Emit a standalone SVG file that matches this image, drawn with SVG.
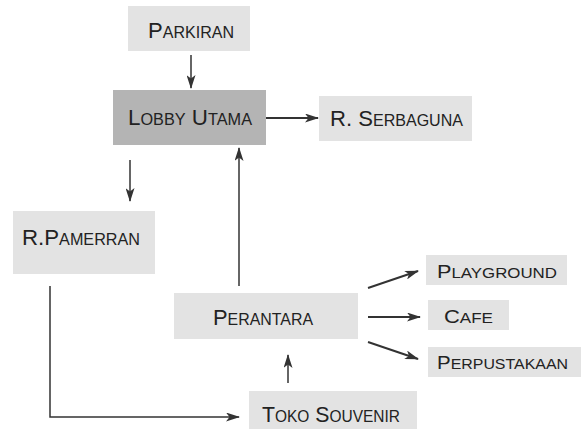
<svg xmlns="http://www.w3.org/2000/svg" width="583" height="431" viewBox="0 0 583 431">
<style>
.box{fill:#e3e3e3}
.dark{fill:#b4b4b4}
text{font-family:"Liberation Sans",Arial,sans-serif;fill:#222;font-size:22px}
text .s{font-size:16px}
text.m{font-size:18px}
text.m .s{font-size:14px}
.c{stroke:#333;stroke-width:1.5;fill:none;marker-end:url(#ah)}
.t{stroke-width:2}
</style>
<defs>
<marker id="ah" viewBox="0 0 14 9" refX="13" refY="4.5" markerWidth="14" markerHeight="9" markerUnits="userSpaceOnUse" orient="auto">
<path d="M0,0 L14,4.5 L0,9 L3.5,4.5 Z" fill="#333"/>
</marker>
</defs>
<rect width="583" height="431" fill="#fff"/>
<g id="connectors">
<line class="c" x1="191" y1="55" x2="191" y2="88"/>
<line class="c t" x1="266" y1="118" x2="318" y2="118"/>
<line class="c" x1="130" y1="160" x2="130" y2="201"/>
<line class="c" x1="239" y1="286" x2="239" y2="148"/>
<line class="c" x1="288" y1="383" x2="288" y2="355"/>
<polyline class="c" points="50,286 50,417 239,417"/>
<line class="c t" x1="368" y1="288" x2="418" y2="271"/>
<line class="c t" x1="368" y1="317" x2="420" y2="317"/>
<line class="c t" x1="368" y1="342" x2="418" y2="359"/>
</g>
<g id="parkiran"><rect class="box" x="128" y="6" width="122" height="45"/><text x="148" y="38" textLength="86" lengthAdjust="spacingAndGlyphs">P<tspan class="s">ARKIRAN</tspan></text></g>
<g id="lobby"><rect class="dark" x="113" y="90" width="153" height="55"/><text x="128" y="125" textLength="124" lengthAdjust="spacingAndGlyphs">L<tspan class="s">OBBY</tspan> U<tspan class="s">TAMA</tspan></text></g>
<g id="serbaguna"><rect class="box" x="319" y="96" width="153" height="45"/><text x="330" y="126" textLength="133" lengthAdjust="spacingAndGlyphs">R. S<tspan class="s">ERBAGUNA</tspan></text></g>
<g id="pamerran"><rect class="box" x="13" y="211" width="142" height="63"/><text x="22" y="245" textLength="118" lengthAdjust="spacingAndGlyphs">R.P<tspan class="s">AMERRAN</tspan></text></g>
<g id="perantara"><rect class="box" x="174" y="293" width="184" height="46"/><text x="213" y="325" textLength="100" lengthAdjust="spacingAndGlyphs">P<tspan class="s">ERANTARA</tspan></text></g>
<g id="toko"><rect class="box" x="249" y="391" width="168" height="38"/><text x="262" y="422" textLength="138" lengthAdjust="spacingAndGlyphs">T<tspan class="s">OKO</tspan> S<tspan class="s">OUVENIR</tspan></text></g>
<g id="playground"><rect class="box" x="426" y="255" width="141" height="30"/><text class="m" x="437" y="278" textLength="120" lengthAdjust="spacingAndGlyphs">P<tspan class="s">LAYGROUND</tspan></text></g>
<g id="cafe"><rect class="box" x="428" y="300" width="81" height="30"/><text class="m" x="444" y="323" textLength="49" lengthAdjust="spacingAndGlyphs">C<tspan class="s">AFE</tspan></text></g>
<g id="perpustakaan"><rect class="box" x="428" y="347" width="153" height="30"/><text class="m" x="437" y="369" textLength="131" lengthAdjust="spacingAndGlyphs">P<tspan class="s">ERPUSTAKAAN</tspan></text></g>
</svg>
